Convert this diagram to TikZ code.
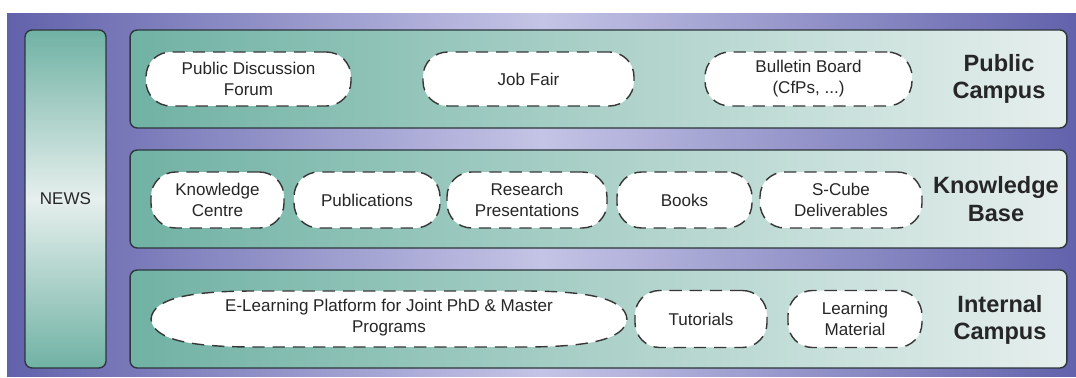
\documentclass[tikz,border=0pt]{standalone}
\usepackage{fontspec}
\setmainfont{Liberation Sans}

\newcommand\itemfont{\fontsize{9.7}{12}\selectfont}
\newcommand\campusfont{\fontsize{13.4}{15.5}\selectfont\bfseries}

\begin{document}
\begin{tikzpicture}[x=0.02cm, y=-0.02cm,
        panel/.style={draw=paneledge, line width=0.8pt, rounded corners=4pt, left color=tealdark, right color=teallight, minimum width=18.74cm, minimum height=1.96cm},
        itemline/.style={draw=dashgray, line width=0.8pt, dash pattern=on 7pt off 4.5pt, fill=white},
        item/.style={itemline, rounded corners=14pt, align=center, font=\itemfont, text=textgray, inner sep=0pt},
        campus/.style={font=\campusfont, align=center, text=textgray}]
        \definecolor{purpleedge}{RGB}{98,98,172}
        \definecolor{purplelight}{RGB}{196,196,230}
        \definecolor{tealdark}{RGB}{112,178,164}
        \definecolor{teallight}{RGB}{230,239,237}
        \definecolor{paneledge}{RGB}{45,55,60}
        \definecolor{dashgray}{RGB}{55,55,55}
        \definecolor{textgray}{RGB}{38,38,38}

        \useasboundingbox (0,0) rectangle (1076,378);

        % Background and side column
        \node[left color=purpleedge, right color=purpleedge, middle color=purplelight, minimum width=21.38cm, minimum height=7.28cm, inner sep=0pt] (back) at (541.5,195) {};
        \node[draw=paneledge, line width=0.8pt, rounded corners=4pt, top color=tealdark, bottom color=tealdark, middle color=teallight, minimum width=1.62cm, minimum height=6.76cm, font=\itemfont, text=textgray] (news) at (65.5,199) {NEWS};

        % Three campus panels
        \node[panel] (pubpanel) at (598.5,79) {};
        \node[panel] (kbpanel) at (598.5,199) {};
        \node[panel] (icpanel) at (598.5,319) {};

        % Public Campus
        \node[item, minimum width=4.10cm, minimum height=1.08cm] (forum) at (248.5,79) {Public Discussion\\Forum};
        \node[item, minimum width=4.22cm, minimum height=1.08cm] (jobfair) at (528.5,79) {Job Fair};
        \node[item, minimum width=4.14cm, minimum height=1.08cm] (bulletin) at (808.5,79) {Bulletin Board\\(CfPs, ...)};
        \node[campus] (pclabel) at (999,79) {Public\\Campus};

        % Knowledge Base
        \node[item, minimum width=2.66cm, minimum height=1.12cm] (kcentre) at (217.5,200) {Knowledge\\Centre};
        \node[item, minimum width=2.92cm, minimum height=1.12cm] (pubs) at (367,200) {Publications};
        \node[item, minimum width=3.20cm, minimum height=1.12cm] (respres) at (527,200) {Research\\Presentations};
        \node[item, minimum width=2.70cm, minimum height=1.12cm] (books) at (684.5,200) {Books};
        \node[item, minimum width=3.24cm, minimum height=1.12cm] (scube) at (841,200) {S-Cube\\Deliverables};
        \node[campus] (kblabel) at (996,199) {Knowledge\\Base};

        % Internal Campus (the long pointed oval is drawn as a path)
        \draw[itemline] (151,319) .. controls (153,297) and (195,291) .. (255,291) -- (523,291)
            .. controls (583,291) and (625,297) .. (627,319)
            .. controls (625,341) and (583,347) .. (523,347) -- (255,347)
            .. controls (195,347) and (153,341) .. (151,319) -- cycle;
        \node[align=center, font=\itemfont, text=textgray] (elearn) at (389,318) {E-Learning Platform for Joint PhD \& Master\\Programs};
        \node[item, minimum width=2.64cm, minimum height=1.14cm] (tutorials) at (701,319) {Tutorials};
        \node[item, minimum width=2.68cm, minimum height=1.14cm] (lmaterial) at (855,319) {Learning\\Material};
        \node[campus] (iclabel) at (1000,320) {Internal\\Campus};
    \end{tikzpicture}
\end{document}
